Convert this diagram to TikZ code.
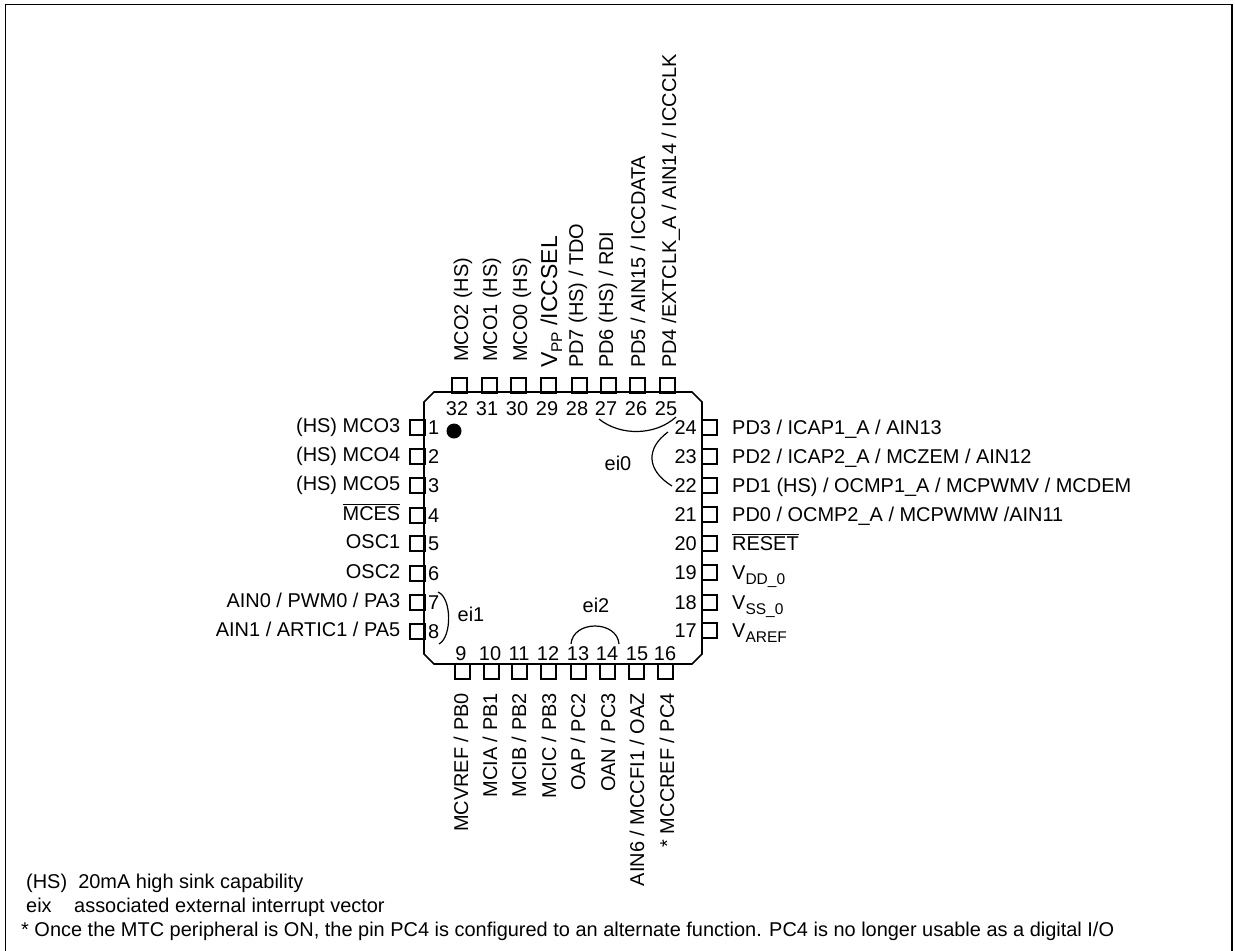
\documentclass[tikz,border=0pt]{standalone}
\usepackage{fontspec}
\setmainfont{Liberation Sans}
\usepackage{tikz}
\usetikzlibrary{positioning,calc}
\newcommand{\subtxt}[1]{\raisebox{-5pt}{\fontsize{15.5}{16}\selectfont #1}}
\tikzset{
  pin/.style={draw,rectangle,line width=2pt,minimum size=15pt,inner sep=0pt},
  num/.style={inner sep=0pt,text height=14pt,text depth=0pt,font=\fontsize{19.95}{22}\selectfont},
  pinlabel/.style={inner sep=0pt,text height=14pt,text depth=0pt,font=\fontsize{19.95}{22}\selectfont},
  note/.style={inner sep=0pt,anchor=base west,font=\fontsize{19.95}{22}\selectfont},
  vec/.style={line width=1.2pt}
}
\begin{document}
\begin{tikzpicture}[x=1pt,y=-1pt]
\useasboundingbox (0,0) rectangle (1235,951);
% outer frame and package outline
\draw[line width=1.5pt] (5.5,951) -- (5.5,4.5) -- (1232,4.5) -- (1232,951);
\draw[line width=1.6pt] (434,392) -- (692,392) -- (702,402) -- (702,654) -- (692,664)
  -- (434,664) -- (424,654) -- (424,402) -- cycle;
% pins on the left
\foreach \n/\y/\txt in {1/427/{(HS) MCO3},2/456/{(HS) MCO4},3/485/{(HS) MCO5},4/515/{$\overline{\mbox{MCES}}$},
  5/543/{OSC1},6/573/{OSC2},7/602/{AIN0 / PWM0 / PA3},8/631/{AIN1 / ARTIC1 / PA5}}{
  \node[pin] (p\n) at (417,\y) {};
  \node[num,anchor=west] (n\n) at (428,\y) {\n};
  \node[pinlabel,left=8pt of p\n,yshift=2pt] (l\n) {\txt};
}
% pins on the right
\foreach \n/\y/\txt in {24/427/{PD3 / ICAP1\_A / AIN13},23/456/{PD2 / ICAP2\_A / MCZEM / AIN12},
  22/485/{PD1 (HS) / OCMP1\_A / MCPWMV / MCDEM},21/514/{PD0 / OCMP2\_A / MCPWMW /AIN11},
  20/543/{$\overline{\mbox{RESET}}$},19/572/{V\subtxt{DD\_0}},18/602/{V\subtxt{SS\_0}},17/630/{V\subtxt{AREF}}}{
  \node[pin] (p\n) at (709,\y) {};
  \node[num,anchor=east] (n\n) at (697,\y) {\n};
  \node[pinlabel,anchor=west] (l\n) at (732,\y) {\txt};
}
% pins on the top
\foreach \n/\x/\nx/\lx/\ly/\txt in {32/459/457/461/362/{MCO2 (HS)},31/489/487/490/362/{MCO1 (HS)},30/518/517/520/362/{MCO0 (HS)},
  29/548/547/550/368/{\fontsize{23}{25}\selectfont V\subtxt{PP} /ICCSEL},28/579/577/576/368/{PD7 (HS) / TDO},27/608/606/606/368/{PD6 (HS) / RDI},
  26/637/636/638/368/{PD5 / AIN15 / ICCDATA},25/667/666/669/368/{PD4 /EXTCLK\_A / AIN14 / ICCCLK}}{
  \node[pin] (p\n) at (\x,385) {};
  \node[num] (n\n) at (\nx,408) {\n};
  \node[pinlabel,rotate=90,anchor=west] (l\n) at (\lx,\ly) {\txt};
}
% pins on the bottom
\foreach \n/\x/\nx/\lx/\txt in {9/462/461/461/{MCVREF / PB0},10/491/490/490/{MCIA / PB1},11/519/519/519/{MCIB / PB2},
  12/548/548/549/{MCIC / PB3},13/578/578/578/{OAP / PC2},14/607/607/608/{OAN / PC3},
  15/636/637/637/{AIN6 / MCCFI1 / OAZ},16/665/665/667/{* MCCREF / PC4}}{
  \node[pin] (p\n) at (\x,671) {};
  \node[num] (n\n) at (\nx,653) {\n};
  \node[pinlabel,rotate=90,anchor=east] (l\n) at (\lx,693) {\txt};
}
% index mark
\node[circle,fill=black,minimum size=15pt,inner sep=0pt] (dot) at (454,431) {};
% interrupt vector groups
\coordinate (a0) at (599,419);
\coordinate (b0) at (676,417);
\coordinate (c0) at (668,432);
\coordinate (d0) at (672,486);
\coordinate (a1) at (438,592);
\coordinate (b1) at (439,644);
\coordinate (a2) at (571,644);
\coordinate (b2) at (619,644);
\draw[vec] (a0) .. controls (620,436) and (655,436) .. (b0);
\draw[vec] (c0) .. controls (646,448) and (646,470) .. (d0);
\draw[vec] (a1) .. controls (452,598) and (452,637) .. (b1);
\draw[vec] (a2) .. controls (573,620) and (617,620) .. (b2);
\node[pinlabel] (ei0) at (618,463) {ei0};
\node[pinlabel] (ei1) at (471,614) {ei1};
\node[pinlabel] (ei2) at (596,605) {ei2};
% notes
\node[note] (hs) at (26,888) {(HS)\ \ 20mA high sink capability};
\node[note] (eix) at (26,912) {eix};
\node[note] (eixtxt) at (74,912) {associated external interrupt vector};
\node[note] (star) at (21,936) {* Once the MTC peripheral is ON, the pin PC4 is configured to an alternate function. PC4 is no longer usable as a digital I/O};
\end{tikzpicture}
\end{document}
